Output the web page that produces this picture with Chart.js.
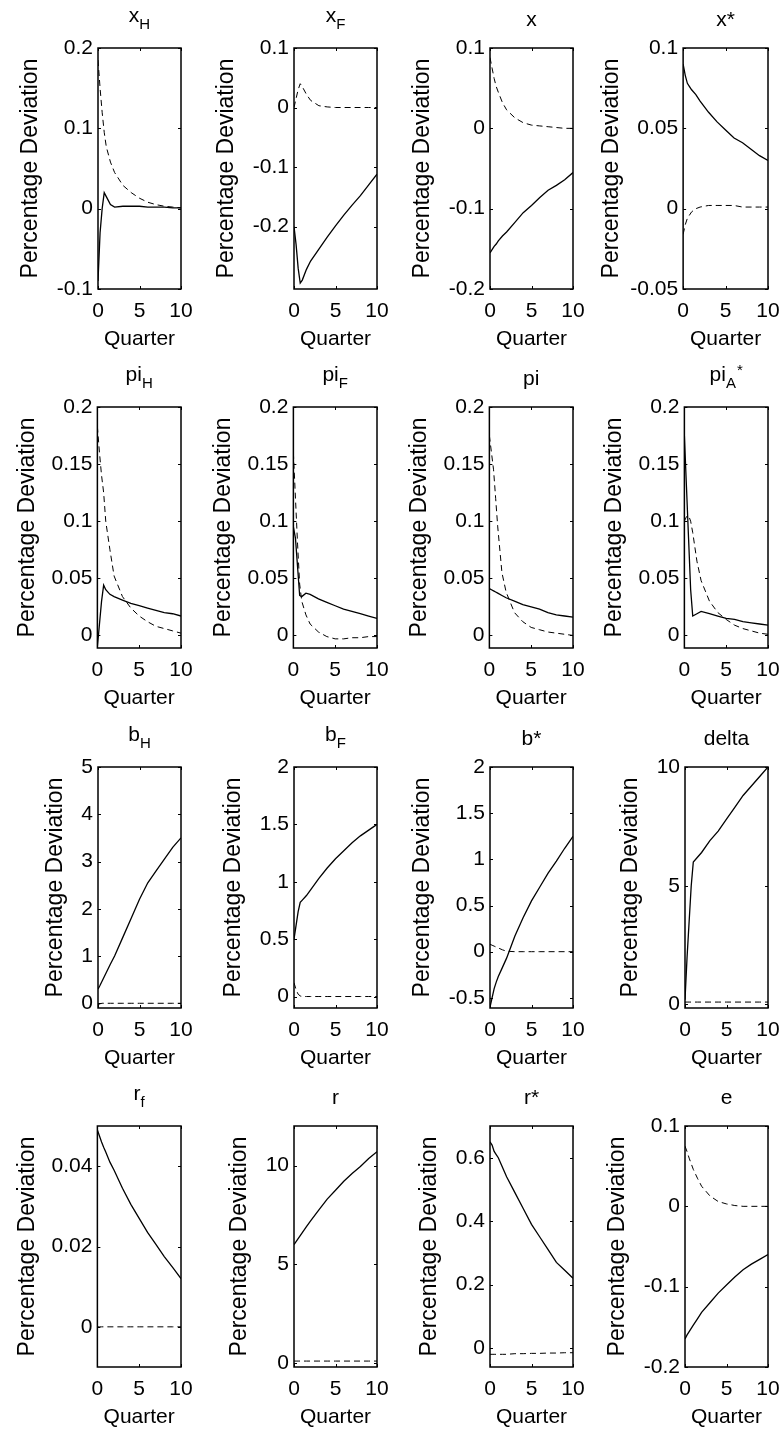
<!DOCTYPE html>
<html>
<head>
<meta charset="utf-8">
<script src="https://cdn.jsdelivr.net/npm/chart.js@4.4.1/dist/chart.umd.min.js"></script>
<style>
  html, body { margin: 0; padding: 0; background: #fff; overflow: hidden; }
  #wrap { position: relative; width: 779px; height: 1432px; overflow: hidden; background: #fff; }
  #wrap canvas { position: absolute; }
</style>
</head>
<body>
<div id="wrap"></div>
<script>
// quarters after the shock (x values shared by every panel)
const quarters = [0, 0.25, 0.5, 0.75, 1, 1.5, 2, 3, 4, 5, 6, 7, 8, 9, 10];
const xTicks = [0, 5, 10];

// row 1
const xH_solid  = [-0.09, -0.03, 0.0, 0.02, 0.015, 0.005, 0.002, 0.003, 0.003, 0.003, 0.002, 0.002, 0.002, 0.001, 0.001];
const xH_dashed = [0.185, 0.15, 0.12, 0.095, 0.077, 0.058, 0.045, 0.029, 0.02, 0.013, 0.008, 0.005, 0.003, 0.002, 0.001];
const xF_solid  = [-0.2, -0.23, -0.27, -0.295, -0.29, -0.272, -0.258, -0.238, -0.218, -0.199, -0.181, -0.164, -0.148, -0.13, -0.112];
const xF_dashed = [0.0, 0.015, 0.03, 0.04, 0.035, 0.022, 0.012, 0.003, 0.001, 0, 0, 0, 0, 0, 0];
const x_solid   = [-0.155, -0.151, -0.147, -0.144, -0.14, -0.134, -0.129, -0.117, -0.105, -0.096, -0.086, -0.077, -0.071, -0.064, -0.055];
const x_dashed  = [0.088, 0.075, 0.062, 0.052, 0.045, 0.032, 0.023, 0.013, 0.007, 0.004, 0.003, 0.002, 0.001, 0, 0];
const xS_solid  = [0.09, 0.083, 0.078, 0.076, 0.074, 0.071, 0.067, 0.06, 0.054, 0.049, 0.044, 0.041, 0.037, 0.033, 0.03];
const xS_dashed = [-0.016, -0.01, -0.006, -0.004, -0.002, 0.0, 0.001, 0.002, 0.002, 0.002, 0.002, 0.001, 0.001, 0.001, 0.001];

// row 2
const piH_solid  = [-0.01, 0.01, 0.03, 0.044, 0.04, 0.036, 0.034, 0.031, 0.028, 0.026, 0.024, 0.022, 0.02, 0.019, 0.017];
const piH_dashed = [0.183, 0.16, 0.14, 0.125, 0.1, 0.075, 0.052, 0.034, 0.024, 0.017, 0.012, 0.008, 0.006, 0.004, 0.002];
const piF_solid  = [0.095, 0.085, 0.06, 0.035, 0.034, 0.037, 0.036, 0.032, 0.029, 0.026, 0.023, 0.021, 0.019, 0.017, 0.015];
const piF_dashed = [0.16, 0.12, 0.08, 0.045, 0.03, 0.018, 0.01, 0.003, -0.001, -0.003, -0.003, -0.002, -0.002, -0.001, -0.001];
const pi_solid   = [0.041, 0.04, 0.039, 0.038, 0.037, 0.035, 0.033, 0.03, 0.027, 0.025, 0.023, 0.02, 0.018, 0.017, 0.016];
const pi_dashed  = [0.175, 0.16, 0.145, 0.12, 0.095, 0.055, 0.038, 0.02, 0.012, 0.007, 0.005, 0.003, 0.002, 0.001, 0.0];
const piA_solid  = [0.175, 0.13, 0.085, 0.04, 0.017, 0.019, 0.021, 0.019, 0.017, 0.015, 0.014, 0.012, 0.011, 0.01, 0.009];
const piA_dashed = [0.1, 0.104, 0.105, 0.1, 0.09, 0.065, 0.048, 0.03, 0.02, 0.014, 0.009, 0.006, 0.004, 0.002, 0.001];

// row 3
const bH_solid  = [0.3, 0.38, 0.47, 0.56, 0.65, 0.83, 1.0, 1.4, 1.8, 2.2, 2.55, 2.8, 3.05, 3.3, 3.5];
const bH_dashed = [-0.03, -0.01, 0, 0, 0, 0, 0, 0, 0, 0, 0, 0, 0, 0, 0];
const bF_solid  = [0.5, 0.62, 0.74, 0.82, 0.84, 0.88, 0.93, 1.03, 1.12, 1.2, 1.27, 1.34, 1.4, 1.45, 1.5];
const bF_dashed = [0.12, 0.06, 0.02, 0.005, 0, 0, 0, 0, 0, 0, 0, 0, 0, 0, 0];
const bS_solid  = [-0.6, -0.5, -0.4, -0.33, -0.27, -0.17, -0.07, 0.17, 0.37, 0.55, 0.7, 0.85, 0.98, 1.12, 1.25];
const bS_dashed = [0.08, 0.07, 0.06, 0.05, 0.04, 0.02, 0.005, 0, 0, 0, 0, 0, 0, 0, 0];
const delta_solid  = [0.2, 2.0, 3.5, 5.0, 6.0, 6.2, 6.4, 6.9, 7.3, 7.8, 8.3, 8.8, 9.2, 9.6, 10.0];
const delta_dashed = [0.1, 0.1, 0.1, 0.1, 0.1, 0.1, 0.1, 0.1, 0.1, 0.1, 0.1, 0.1, 0.1, 0.1, 0.1];

// row 4
const rf_solid  = [0.049, 0.0475, 0.046, 0.0447, 0.0435, 0.041, 0.039, 0.0345, 0.0305, 0.027, 0.0235, 0.0205, 0.0175, 0.0148, 0.012];
const rf_dashed = [0, 0, 0, 0, 0, 0, 0, 0, 0, 0, 0, 0, 0, 0, 0];
const r_solid   = [6.0, 6.15, 6.3, 6.45, 6.6, 6.9, 7.2, 7.75, 8.3, 8.75, 9.2, 9.6, 9.95, 10.35, 10.7];
const r_dashed  = [0.1, 0.1, 0.1, 0.1, 0.1, 0.1, 0.1, 0.1, 0.1, 0.1, 0.1, 0.1, 0.1, 0.1, 0.1];
const rS_solid  = [0.65, 0.64, 0.62, 0.61, 0.6, 0.57, 0.54, 0.49, 0.44, 0.39, 0.35, 0.31, 0.27, 0.245, 0.22];
const rS_dashed = [-0.02, -0.02, -0.02, -0.02, -0.02, -0.02, -0.02, -0.018, -0.018, -0.017, -0.017, -0.016, -0.016, -0.015, -0.015];
const e_solid   = [-0.165, -0.16, -0.156, -0.152, -0.148, -0.14, -0.132, -0.12, -0.108, -0.098, -0.088, -0.079, -0.072, -0.066, -0.06];
const e_dashed  = [0.075, 0.068, 0.06, 0.053, 0.046, 0.035, 0.025, 0.013, 0.006, 0.003, 0.001, 0, 0, 0, 0];

// titles: [main, subscript, superscript]
const titles = [
  ['x', 'H', ''], ['x', 'F', ''], ['x', '', ''], ['x*', '', ''],
  ['pi', 'H', ''], ['pi', 'F', ''], ['pi', '', ''], ['pi', 'A', '*'],
  ['b', 'H', ''], ['b', 'F', ''], ['b*', '', ''], ['delta', '', ''],
  ['r', 'f', ''], ['r', '', ''], ['r*', '', ''], ['e', '', '']
];
const solidSeries = [xH_solid, xF_solid, x_solid, xS_solid, piH_solid, piF_solid, pi_solid, piA_solid,
  bH_solid, bF_solid, bS_solid, delta_solid, rf_solid, r_solid, rS_solid, e_solid];
const dashedSeries = [xH_dashed, xF_dashed, x_dashed, xS_dashed, piH_dashed, piF_dashed, pi_dashed, piA_dashed,
  bH_dashed, bF_dashed, bS_dashed, delta_dashed, rf_dashed, r_dashed, rS_dashed, e_dashed];
const yMin = [-0.1, -0.305, -0.2, -0.05, -0.011, -0.011, -0.011, -0.011, -0.1, -0.1, -0.61, -0.15, -0.01, -0.2, -0.06, -0.2];
const yMax = [0.2, 0.1, 0.1, 0.1, 0.2, 0.2, 0.2, 0.2, 5, 2, 2, 10, 0.05, 12, 0.7, 0.1];
const yTicks = [
  [-0.1, 0, 0.1, 0.2], [-0.2, -0.1, 0, 0.1], [-0.2, -0.1, 0, 0.1], [-0.05, 0, 0.05, 0.1],
  [0, 0.05, 0.1, 0.15, 0.2], [0, 0.05, 0.1, 0.15, 0.2], [0, 0.05, 0.1, 0.15, 0.2], [0, 0.05, 0.1, 0.15, 0.2],
  [0, 1, 2, 3, 4, 5], [0, 0.5, 1, 1.5, 2], [-0.5, 0, 0.5, 1, 1.5, 2], [0, 5, 10],
  [0, 0.02, 0.04], [0, 5, 10], [0, 0.2, 0.4, 0.6], [-0.2, -0.1, 0, 0.1]
];

const FONT = '"Liberation Sans", Arial, sans-serif';
Chart.defaults.font.family = FONT;
Chart.defaults.color = '#000';

// matlab style box, inward ticks, title with sub/superscript
const matlabBox = {
  id: 'matlabBox',
  afterDraw(chart, args, opts) {
    const { ctx, chartArea: a, scales } = chart;
    ctx.save();
    ctx.strokeStyle = '#000';
    ctx.lineWidth = 1.5;
    ctx.strokeRect(a.left, a.top, a.right - a.left, a.bottom - a.top);
    ctx.lineWidth = 1;
    const len = 3;
    ctx.beginPath();
    scales.x.ticks.forEach(t => {
      const px = Math.round(scales.x.getPixelForValue(t.value)) + 0.5;
      ctx.moveTo(px, a.bottom); ctx.lineTo(px, a.bottom - len);
      ctx.moveTo(px, a.top); ctx.lineTo(px, a.top + len);
    });
    scales.y.ticks.forEach(t => {
      const py = Math.round(scales.y.getPixelForValue(t.value)) + 0.5;
      ctx.moveTo(a.left, py); ctx.lineTo(a.left + len, py);
      ctx.moveTo(a.right, py); ctx.lineTo(a.right - len, py);
    });
    ctx.stroke();

    const [main, sub, sup] = opts.title;
    const big = '21px ' + FONT, small = '15px ' + FONT;
    ctx.font = big;
    const wMain = ctx.measureText(main).width;
    ctx.font = small;
    const wSub = sub ? ctx.measureText(sub).width : 0;
    const wSup = sup ? ctx.measureText(sup).width : 0;
    const total = wMain + wSub + (sup ? wSup + 1 : 0);
    let x = (a.left + a.right) / 2 - total / 2;
    const base = a.top - (sub ? 26 : 22);
    ctx.fillStyle = '#000';
    ctx.textBaseline = 'alphabetic';
    ctx.textAlign = 'left';
    ctx.font = big;
    ctx.fillText(main, x, base);
    x += wMain;
    ctx.font = small;
    if (sub) { ctx.fillText(sub, x, base + 7); x += wSub; }
    if (sup) ctx.fillText(sup, x + 1, base - 6);
    ctx.restore();
  }
};

const fmt = v => String(+Number(v).toFixed(4));
const rowTops = [48, 407, 767, 1126];
const boxLeft = 98, boxRight = 181, boxBottom = 289;
const wrap = document.getElementById('wrap');

titles.forEach((title, k) => {
  const col = k % 4, row = Math.floor(k / 4);
  const cv = document.createElement('canvas');
  cv.width = 212; cv.height = 400;
  cv.style.left = (col * 196 - (col === 3 ? 1 : 0)) + 'px';
  cv.style.top = (rowTops[row] - 48) + 'px';
  wrap.appendChild(cv);

  const ticksY = yTicks[k];
  const chart = new Chart(cv, {
    type: 'line',
    data: {
      datasets: [
        {
          data: quarters.map((q, i) => ({ x: q, y: dashedSeries[k][i] })),
          borderColor: '#000', borderWidth: 1, borderDash: [6, 4],
          pointRadius: 0, tension: 0, fill: false
        },
        {
          data: quarters.map((q, i) => ({ x: q, y: solidSeries[k][i] })),
          borderColor: '#000', borderWidth: 1.3,
          pointRadius: 0, tension: 0, fill: false
        }
      ]
    },
    options: {
      responsive: false,
      animation: false,
      devicePixelRatio: 1,
      layout: { padding: { top: 48, right: 31, left: 0, bottom: 40 } },
      plugins: {
        legend: { display: false },
        tooltip: { enabled: false },
        matlabBox: { title: title }
      },
      scales: {
        x: {
          type: 'linear', min: 0, max: 10,
          afterBuildTicks: s => { s.ticks = xTicks.map(v => ({ value: v })); },
          afterFit: s => { s.height = 67; },
          grid: { display: false, drawTicks: false }, border: { display: false },
          ticks: { padding: 10, maxRotation: 0, autoSkip: false, font: { size: 21 }, color: '#000', callback: fmt },
          title: { display: true, text: 'Quarter', font: { size: 21 }, color: '#000', padding: { top: 0, bottom: 4 } }
        },
        y: {
          type: 'linear', min: yMin[k], max: yMax[k],
          afterBuildTicks: s => { s.ticks = ticksY.map(v => ({ value: v })); },
          grid: { display: false, drawTicks: false }, border: { display: false },
          ticks: { padding: 5, autoSkip: false, font: { size: 21 }, color: '#000', callback: fmt },
          title: { display: true, text: 'Percentage Deviation', font: { size: 23 }, color: '#000', padding: { top: 0, bottom: 7 } }
        }
      }
    },
    plugins: [matlabBox]
  });

  // pin the plot box to the same place in every cell (two passes)
  for (let pass = 0; pass < 2; pass++) {
    const a = chart.chartArea;
    const pad = chart.config.options.layout.padding;
    chart.config.options.layout.padding = {
      top: pad.top,
      right: Math.max(0, pad.right + a.right - boxRight),
      left: Math.max(0, pad.left + boxLeft - a.left),
      bottom: Math.max(0, pad.bottom + a.bottom - boxBottom)
    };
    chart.update('none');
  }
});
</script>
</body>
</html>
